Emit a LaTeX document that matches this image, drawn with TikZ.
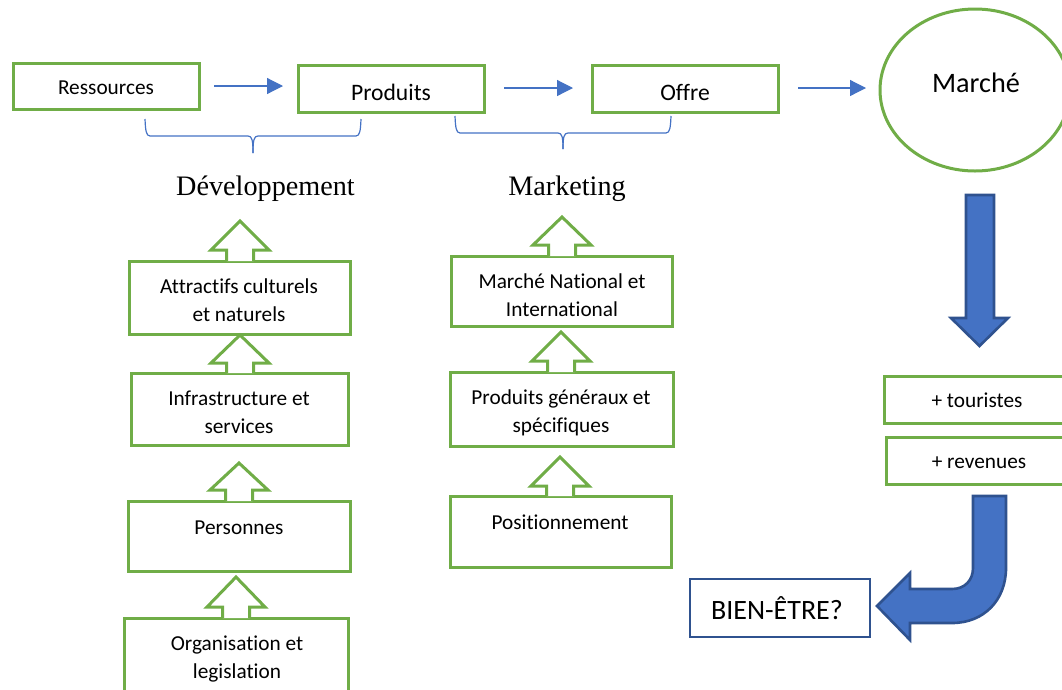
\documentclass[tikz,border=0pt]{standalone}
\usepackage{fontspec}
\setmainfont[Ligatures=NoCommon]{Carlito}
\newfontfamily\timesf{Liberation Serif}
\usetikzlibrary{arrows.meta,shapes.geometric}
\definecolor{grn}{HTML}{70AD47}
\definecolor{blu}{HTML}{4472C4}
\definecolor{dblu}{HTML}{2F528F}
\tikzset{
  gshape/.style={draw=grn,line width=3pt,fill=white,miter limit=10},
  gbox/.style={gshape,rectangle,inner sep=0pt,outer sep=0pt},
  lab/.style={inner sep=0pt,align=center,font=\fontsize{21.3}{28}\selectfont},
  thin arrow/.style={draw=blu,line width=1.2pt,-{Triangle[length=16pt,width=16pt]}},
  brace line/.style={draw=blu,line width=1.2pt},
  bigarrow/.style={draw=dblu,line width=2.6pt,fill=blu,miter limit=10},
}
\newcommand{\gb}[5]{%
  \pgfmathsetmacro\myw{#4-#2}\pgfmathsetmacro\myh{#5-#3}%
  \pgfmathsetmacro\mycx{(#2+#4)/2}\pgfmathsetmacro\mycy{(#3+#5)/2}%
  \node[gbox,minimum width=\myw pt,minimum height=\myh pt] (#1) at (\mycx,\mycy) {};}
\newcommand{\uparr}[4]{%
  \pgfmathsetmacro\mywl{#1-29}\pgfmathsetmacro\mywr{#1+29}%
  \pgfmathsetmacro\mysl{#1-13.5}\pgfmathsetmacro\mysr{#1+13.5}%
  \draw[gshape] (\mysl,#4) -- (\mysl,#3) -- (\mywl,#3) -- (#1,#2) -- (\mywr,#3) -- (\mysr,#3) -- (\mysr,#4);}
\begin{document}
\begin{tikzpicture}[x=1pt,y=-1pt]
\useasboundingbox (0,0) rectangle (1062,689);
\clip (0,0) rectangle (1062,689);
% top row
\gb{res}{13}{63}{199}{109}
\gb{prod}{298}{65}{484}{112}
\gb{off}{592}{65}{778}{112}
\node[gshape,ellipse,inner sep=0pt,minimum width=190pt,minimum height=162pt] (mar) at (975,90) {};
\node[lab] (tres) at (106,88) {Ressources};
\node[lab,font=\fontsize{23.6}{25}\selectfont] (tprod) at (391,92) {Produits};
\node[lab,font=\fontsize{23.6}{25}\selectfont] (toff) at (685,92) {Offre};
\node[lab,font=\fontsize{28.2}{30}\selectfont] (tmar) at (976,83) {Marché};
\coordinate (a1s) at (214,86); \coordinate (a1e) at (283,86);
\coordinate (a2s) at (504,88); \coordinate (a2e) at (573,88);
\coordinate (a3s) at (798,88); \coordinate (a3e) at (866,88);
\draw[thin arrow] (a1s) -- (a1e);
\draw[thin arrow] (a2s) -- (a2e);
\draw[thin arrow] (a3s) -- (a3e);
% braces
\draw[brace line] (145,119) .. controls (145.5,130) and (146,136) .. (150,136) -- (248,136) .. controls (252,136) and (253,140) .. (253,153);
\draw[brace line] (361,119) .. controls (360.5,130) and (360,136) .. (356,136) -- (258,136) .. controls (254,136) and (253,140) .. (253,153);
\draw[brace line] (455,116) .. controls (455.5,127) and (456,133) .. (460,133) -- (558,133) .. controls (562,133) and (563,137) .. (563,149);
\draw[brace line] (671,116) .. controls (670.5,127) and (670,133) .. (666,133) -- (568,133) .. controls (564,133) and (563,137) .. (563,149);
\node[lab,font=\timesf\fontsize{28.2}{30}\selectfont] (dev) at (265.5,189) {Développement};
\node[lab,font=\timesf\fontsize{28.2}{30}\selectfont] (mkt) at (567,189) {Marketing};
% left column
\gb{attr}{129}{261}{350}{334}
\uparr{240}{221}{250}{261}
\gb{infra}{131}{373}{348}{445}
\uparr{240}{335}{363}{373}
\gb{pers}{128}{501}{350}{571}
\uparr{239}{463}{490}{501}
\gb{orga}{124}{618}{348}{700}
\uparr{236}{577}{607}{618}
\node[lab] (tattr) at (239,300) {Attractifs culturels\\et naturels};
\node[lab] (tinfra) at (239,412) {Infrastructure et\\services};
\node[lab] (tpers) at (239,528) {Personnes};
\node[lab] (torga) at (237,659) {Organisation et\\legislation};
% middle column
\gb{natl}{451}{256}{672}{326}
\uparr{562}{217}{245}{256}
\gb{gen}{450}{372}{673}{446}
\uparr{561}{332}{361}{372}
\gb{pos}{450}{496}{671}{567}
\uparr{560}{457}{486}{496}
\node[lab] (tnatl) at (562,295.5) {Marché National et\\International};
\node[lab] (tgen) at (561,413) {Produits généraux et\\spécifiques};
\node[lab] (tpos) at (560,522) {Positionnement};
% right column
\draw[bigarrow] (966,195) -- (994,195) -- (994,318) -- (1008,318) -- (979.5,346) -- (951,318) -- (966,318) -- cycle;
\gb{tou}{884}{376}{1070}{423}
\gb{rev}{886}{437}{1072}{484}
\node[lab] (ttou) at (977,400) {+ touristes};
\node[lab] (trev) at (979,463) {+ revenues};
\draw[bigarrow] (973,496) -- (1006,496) -- (1006,568) .. controls (1006,600) and (984,623) .. (952,623) -- (910,623) -- (910,640) -- (877,606) -- (910,573) -- (910,589) -- (952,589) .. controls (965,589) and (973,580) .. (973,568) -- cycle;
\node[draw=dblu,line width=2.4pt,fill=white,inner sep=0pt,minimum width=180pt,minimum height=58pt] (bien) at (780,608) {};
\node[lab,font=\fontsize{28}{30}\selectfont] (tbien) at (777,608) {BIEN-ÊTRE?};
\end{tikzpicture}
\end{document}
